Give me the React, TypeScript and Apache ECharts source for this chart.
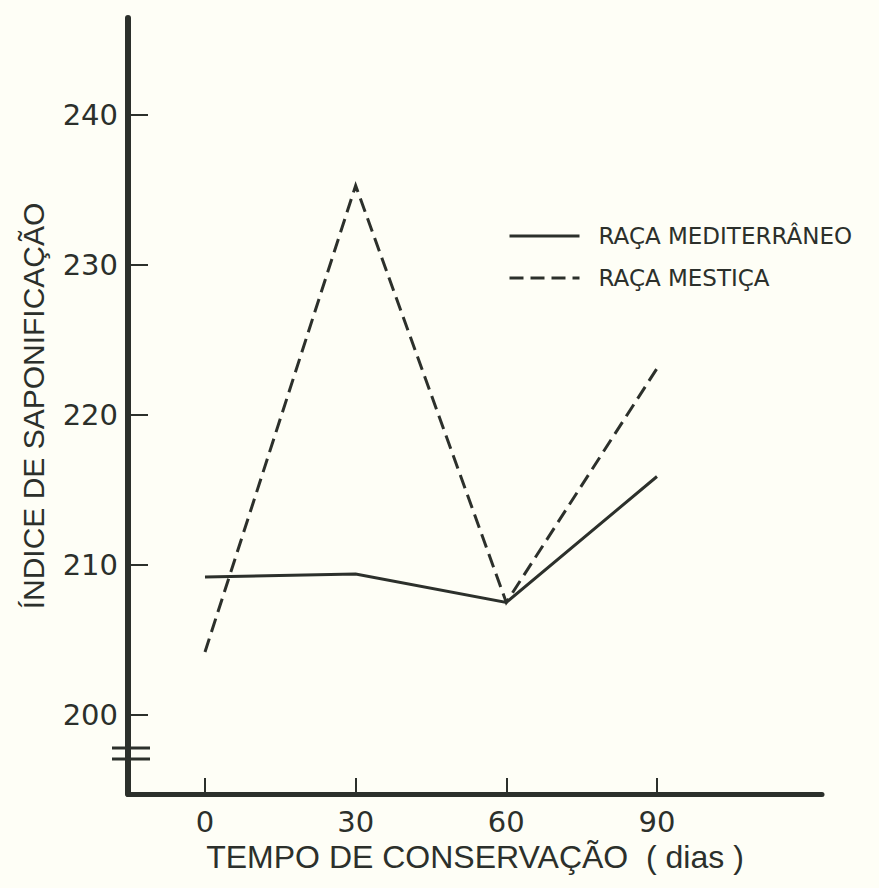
import React, { useEffect, useRef } from "react";
import * as echarts from "echarts";

const days = [0, 30, 60, 90];
const mediterraneo = [209.2, 209.4, 207.5, 215.9];
const mestica = [204.2, 235.3, 207.5, 223.1];
const yTicks = [200, 210, 220, 230, 240];
const seriesNames = ["RAÇA MEDITERRÂNEO", "RAÇA MESTIÇA"];
const xTitle = "TEMPO DE CONSERVAÇÃO  ( dias )";
const yTitle = "ÍNDICE DE SAPONIFICAÇÃO";

const INK = "#2c302b";
const BG = "#fefef6";
const FONT = "'Liberation Sans', Arial, sans-serif";
const WIDE = "'DejaVu Sans', sans-serif";

export default function App() {
  const ref = useRef<HTMLDivElement>(null);
  useEffect(() => {
    if (!ref.current) return;
    const chart = echarts.init(ref.current, undefined, { renderer: "svg" });
    const pairs = (ys: number[]) => days.map((d, i) => [d, ys[i]]);
    chart.setOption({
      animation: false,
      backgroundColor: BG,
      textStyle: { fontFamily: FONT, color: INK },
      grid: { left: 128, right: 57, top: 18, bottom: 94, containLabel: false },
      legend: {
        orient: "vertical",
        left: 508,
        top: 223,
        padding: 0,
        itemWidth: 70,
        itemHeight: 10,
        itemGap: 16,
        data: seriesNames,
        itemStyle: { opacity: 0 },
        lineStyle: { width: 3 },
        textStyle: {
          fontFamily: WIDE,
          fontSize: 23,
          color: INK,
          lineHeight: 26,
          padding: [0, 0, 0, 14],
        },
      },
      xAxis: {
        type: "value",
        min: -15.33,
        max: 122.86,
        name: xTitle,
        nameLocation: "middle",
        nameGap: 46,
        nameTextStyle: { fontFamily: FONT, fontSize: 32, color: INK },
        axisLine: { show: true, onZero: false, lineStyle: { color: INK, width: 5, cap: "round" } },
        axisTick: { show: true, inside: true, length: 16, customValues: days, lineStyle: { color: INK, width: 2 } },
        axisLabel: { customValues: days, fontFamily: WIDE, fontSize: 29, color: INK, margin: 13 },
        splitLine: { show: false },
      },
      yAxis: {
        type: "value",
        min: 194.73,
        max: 246.47,
        name: yTitle,
        nameLocation: "middle",
        nameGap: 80,
        nameTextStyle: { fontFamily: FONT, fontSize: 30, color: INK },
        axisLine: { show: true, onZero: false, lineStyle: { color: INK, width: 6, cap: "round" } },
        axisTick: { show: true, inside: true, length: 20, customValues: yTicks, lineStyle: { color: INK, width: 2 } },
        axisLabel: { customValues: yTicks, fontFamily: WIDE, fontSize: 29, color: INK, margin: 10 },
        splitLine: { show: false },
      },
      series: [
        {
          name: seriesNames[0],
          type: "line",
          data: pairs(mediterraneo),
          symbol: "none",
          lineStyle: { color: INK, width: 3, type: "solid", join: "miter" },
          itemStyle: { color: INK },
        },
        {
          name: seriesNames[1],
          type: "line",
          data: pairs(mestica),
          symbol: "none",
          lineStyle: { color: INK, width: 3, type: [14, 7], join: "miter" },
          itemStyle: { color: INK },
        },
      ],
      graphic: [
        { type: "line", shape: { x1: 112, y1: 748, x2: 150, y2: 748 }, style: { stroke: INK, lineWidth: 3 } },
        { type: "line", shape: { x1: 112, y1: 759, x2: 150, y2: 759 }, style: { stroke: INK, lineWidth: 3 } },
      ],
    });
    return () => chart.dispose();
  }, []);
  return (
    <div style={{ position: "fixed", left: 0, top: 0, width: 879, height: 888, background: BG }}>
      <div ref={ref} style={{ width: 879, height: 888 }} />
    </div>
  );
}
